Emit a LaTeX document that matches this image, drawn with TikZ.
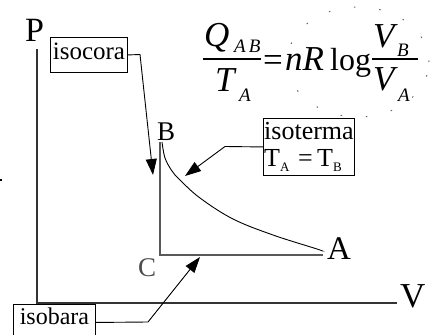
\documentclass[tikz,border=0pt]{standalone}
\usepackage{fontspec}
\setmainfont{Liberation Serif}
\usetikzlibrary{arrows.meta}
\newcommand{\fs}[1]{\fontsize{#1}{#1}\selectfont}
\newcommand{\lsub}[1]{\raisebox{-5pt}{\fontsize{13}{13}\selectfont #1}}
\begin{document}
\begin{tikzpicture}[x=1pt,y=-1pt,
  axis/.style={line width=1.3pt, draw=black!80},
  proc/.style={line width=1.5pt, draw=black!65},
  leader/.style={line width=0.9pt, -{Triangle[length=16pt,width=11pt]}},
  labelbox/.style={draw, line width=0.9pt, inner sep=0pt},
  ptlabel/.style={inner sep=0pt, anchor=base west},
  big/.style={inner sep=0pt, anchor=base west, font=\fs{35}\itshape},
  small/.style={inner sep=0pt, anchor=base west, font=\fs{19}\itshape},
  fbar/.style={line width=2pt}]
\useasboundingbox (0,0) rectangle (430,334);
\clip (0,0) rectangle (430,334);

% axes
\coordinate (Ptop) at (37,49);
\coordinate (O) at (37,303);
\coordinate (Vend) at (397,303);
\draw[axis] (Ptop) -- (O) -- (Vend);

% labels
\node[ptlabel, font=\fs{34}] (P) at (25,42) {P};
\node[ptlabel, font=\fs{27}] (B) at (157,140) {B};
\node[ptlabel, font=\fs{27}, text=black!70] (C) at (138,276) {C};
\node[ptlabel, font=\fs{33}] (A) at (327,259) {A};
\node[ptlabel, font=\fs{35}] (V) at (400,307) {V};

% process
\coordinate (Bp) at (160,142);
\coordinate (Cp) at (160,255);
\coordinate (Ap) at (323,255);
\draw[proc] (Bp) -- (Cp) -- (Ap);
\draw[line width=0.9pt] plot[smooth,tension=0.6] coordinates {(162,142) (165,158) (172,171) (180,180) (200,198) (233,219) (273,235) (317,249) (322,251)};

% isocora
\node[labelbox, font=\fs{25}, minimum width=77pt, text height=22pt, text depth=13pt, anchor=north west] (isocora) at (50,37) {isocora};
\coordinate (k1) at (140,54.5);
\coordinate (t1) at (153,175);
\draw[leader] (isocora.east) -- (k1) -- (t1);

% isoterma
\node[labelbox, font=\fontsize{26}{27}\selectfont, align=left, minimum width=91pt, minimum height=57pt, anchor=north west] (isoterma) at (263,118) {isoterma\\T\lsub{A}\,\,=\,T\lsub{B}};
\coordinate (k2) at (225,146.5);
\coordinate (t2) at (185,176);
\draw[leader] (isoterma.west) -- (k2) -- (t2);

% isobara
\node[labelbox, font=\fs{24}, minimum width=82pt, text height=20pt, text depth=16pt, anchor=north west] (isobara) at (13,304) {isobara};
\coordinate (k3) at (148,322);
\coordinate (t3) at (200,257);
\draw[leader] (isobara.east) -- (k3) -- (t3);

% formula
\draw[black!60, line width=1pt, dash pattern=on 1.5pt off 24pt] (358,62) ellipse [x radius=71pt, y radius=55pt];
\node[big] (Q) at (204,47) {Q};
\node[small] (QAB) at (234,53) {A\,B};
\coordinate (bar1l) at (203,59.5);
\coordinate (bar1r) at (261,59.5);
\draw[fbar] (bar1l) -- (bar1r);
\node[big] (TA) at (215,92) {T};
\node[small] (TAs) at (239,101) {A};
\node[inner sep=0pt, anchor=base west, font=\fs{35}] (eq) at (263,72) {=};
\node[big] (nR) at (285,71) {nR};
\node[inner sep=0pt, anchor=base west, font=\fs{32}] (log) at (330,71) {log};
\node[big] (VB) at (373,48) {V};
\node[small] (VBs) at (397,57) {B};
\coordinate (bar2l) at (372,59.5);
\coordinate (bar2r) at (418,59.5);
\draw[fbar] (bar2l) -- (bar2r);
\node[big] (VA) at (373,91) {V};
\node[small] (VAs) at (398,101) {A};

\fill (0,179) rectangle (2,181);
\end{tikzpicture}
\end{document}
